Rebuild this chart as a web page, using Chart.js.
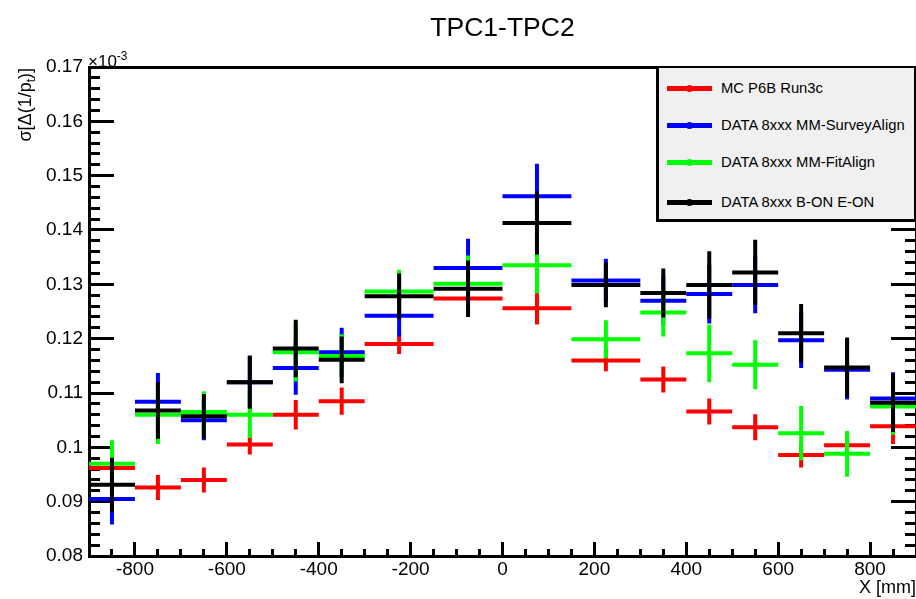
<!DOCTYPE html>
<html>
<head>
<meta charset="utf-8">
<title>TPC1-TPC2</title>
<script src="https://cdn.jsdelivr.net/npm/chart.js@4/dist/chart.umd.min.js"></script>
<style>
  html, body { margin: 0; padding: 0; background: #ffffff; }
  #wrap { position: relative; width: 916px; height: 599px; overflow: hidden;
          font-family: "Liberation Sans", Arial, Helvetica, sans-serif; color: #000; }
  #c { position: absolute; left: 0; top: 0; }
  .txt { position: absolute; white-space: nowrap; line-height: 1; }
  #title { left: 89px; width: 827px; top: 14px; text-align: center; font-size: 26.5px; }
  #ytitle { left: 0; top: 0; font-size: 18px;
            transform-origin: 0 0; transform: translate(16px, 68px) rotate(-90deg) translateX(-100%); }
  #ytitle sub { font-size: 12px; vertical-align: -4px; }
  #expo { left: 88px; top: 50px; font-size: 17px; }
  #expo sup { font-size: 12px; vertical-align: 7px; }
  #legend { position: absolute; left: 656px; top: 66px; width: 255px; height: 151px;
            background: #f0f0f0; border-style: solid; border-color: #000;
            border-width: 2px 2px 3px 3px; }
  .lg-line { position: absolute; left: 8px; width: 45px; height: 5px; }
  .lg-dot { position: absolute; left: 19px; top: -1px; width: 7px; height: 7px; border-radius: 50%; }
  .lg-text { position: absolute; left: 62px; font-size: 14.8px; line-height: 1; white-space: nowrap; }
</style>
</head>
<body>
<div id="wrap">
  <canvas id="c" width="916" height="599"></canvas>
  <div id="title" class="txt">TPC1-TPC2</div>
  <div id="ytitle" class="txt">σ[Δ(1/p<sub>t</sub>)]</div>
  <div id="expo" class="txt">×10<sup>-3</sup></div>
  <div id="legend"></div>
</div>
<script>
// Bins in X [mm]: centre and half width of each bin
const xCenters    = [-850, -750, -650, -550, -450, -350, -225, -75, 75, 225, 350, 450, 550, 650, 750, 850];
const xHalfWidths = [50, 50, 50, 50, 50, 50, 75, 75, 75, 75, 50, 50, 50, 50, 50, 50];

// sigma[Delta(1/pt)] in units of 1e-3, with its uncertainty
const mcValues = [0.0962, 0.0926, 0.0940, 0.1005, 0.1060, 0.1085, 0.1190, 0.1274, 0.1256, 0.1160, 0.1125, 0.1066, 0.1037, 0.0986, 0.1004, 0.1039];
const mcErrors = [0.0025, 0.0023, 0.0023, 0.0018, 0.0027, 0.0025, 0.0018, 0.0020, 0.0030, 0.0020, 0.0024, 0.0024, 0.0024, 0.0023, 0.0022, 0.0033];

const surveyValues = [0.0905, 0.1084, 0.1050, 0.1120, 0.1146, 0.1175, 0.1242, 0.1330, 0.1462, 0.1307, 0.1270, 0.1282, 0.1299, 0.1197, 0.1143, 0.1090];
const surveyErrors = [0.0047, 0.0053, 0.0037, 0.0048, 0.0049, 0.0045, 0.0038, 0.0054, 0.0060, 0.0040, 0.0045, 0.0054, 0.0052, 0.0051, 0.0055, 0.0048];

const fitValues = [0.0970, 0.1060, 0.1065, 0.1060, 0.1175, 0.1168, 0.1287, 0.1301, 0.1335, 0.1199, 0.1248, 0.1173, 0.1152, 0.1026, 0.0988, 0.1075];
const fitErrors = [0.0043, 0.0054, 0.0038, 0.0043, 0.0054, 0.0040, 0.0040, 0.0052, 0.0052, 0.0035, 0.0044, 0.0053, 0.0045, 0.0050, 0.0042, 0.0052];

const bonValues = [0.0931, 0.1068, 0.1057, 0.1120, 0.1182, 0.1161, 0.1278, 0.1292, 0.1413, 0.1299, 0.1284, 0.1299, 0.1322, 0.1210, 0.1147, 0.1082];
const bonErrors = [0.0050, 0.0052, 0.0041, 0.0049, 0.0053, 0.0043, 0.0042, 0.0052, 0.0058, 0.0041, 0.0045, 0.0062, 0.0060, 0.0054, 0.0055, 0.0054];

const seriesNames  = ['MC P6B Run3c', 'DATA 8xxx MM-SurveyAlign', 'DATA 8xxx MM-FitAlign', 'DATA 8xxx B-ON E-ON'];
const seriesColors = ['#ff0000', '#0000ff', '#00ff00', '#000000'];

// Axis ticks
const xMajorTicks = [-800, -600, -400, -200, 0, 200, 400, 600, 800];
const yMajorTicks = [0.08, 0.09, 0.10, 0.11, 0.12, 0.13, 0.14, 0.15, 0.16, 0.17];
const X_MIN = -900, X_MAX = 900, Y_MIN = 0.08, Y_MAX = 0.17;

const FONT = '"Liberation Sans", Arial, Helvetica, sans-serif';

// Each bin becomes a cross: a horizontal segment over the bin and a vertical error bar,
// separated by null points so the line breaks between them.
function crossPoints(values, errors) {
  const pts = [];
  xCenters.forEach((c, i) => {
    const v = values[i], e = errors[i], h = xHalfWidths[i];
    pts.push({ x: c - h, y: v }, { x: c + h, y: v }, { x: c, y: null });
    pts.push({ x: c, y: v - e }, { x: c, y: v + e }, { x: c, y: null });
  });
  return pts;
}

const seriesData = [
  [mcValues, mcErrors],
  [surveyValues, surveyErrors],
  [fitValues, fitErrors],
  [bonValues, bonErrors]
];

const datasets = seriesData.map(([v, e], i) => ({
  label: seriesNames[i],
  data: crossPoints(v, e),
  borderColor: seriesColors[i],
  backgroundColor: seriesColors[i],
  borderWidth: 4,
  pointRadius: 0,
  pointHoverRadius: 0,
  spanGaps: false,
  tension: 0,
  order: seriesData.length - i   // later series are drawn on top
}));

const tickFont = { family: FONT, size: 19 };

function noGridAxis(extra) {
  return Object.assign({
    type: 'linear',
    grid: { drawOnChartArea: false, drawTicks: true, tickWidth: 3, tickColor: '#000' },
    border: { display: false }
  }, extra);
}

new Chart(document.getElementById('c'), {
  type: 'line',
  data: { datasets },
  options: {
    responsive: false,
    animation: false,
    events: [],
    layout: { padding: { top: 67, left: 0, right: 0, bottom: 0 } },
    plugins: { legend: { display: false }, tooltip: { enabled: false }, title: { display: false } },
    scales: {
      x: noGridAxis({
        position: 'bottom', weight: 1, min: X_MIN, max: X_MAX,
        afterBuildTicks: s => { s.ticks = xMajorTicks.map(v => ({ value: v })); },
        afterFit: s => { s.height = 43; },
        grid: { drawOnChartArea: false, drawTicks: true, tickLength: -14, tickWidth: 3, tickColor: '#000' },
        border: { display: true, color: '#000', width: 3 },
        ticks: { padding: 16, color: '#000', font: tickFont, maxRotation: 0, autoSkip: false },
        title: { display: true, text: 'X [mm]', align: 'end', color: '#000',
                 font: { family: FONT, size: 18 }, padding: 0 }
      }),
      xMinor: noGridAxis({
        position: 'bottom', weight: 0, min: X_MIN, max: X_MAX,
        afterFit: s => { s.height = 0; },
        grid: { drawOnChartArea: false, drawTicks: true, tickLength: -7, tickWidth: 3, tickColor: '#000' },
        ticks: { display: false, stepSize: 50, autoSkip: false }
      }),
      xTop: noGridAxis({
        position: 'top', min: X_MIN, max: X_MAX,
        afterFit: s => { s.height = 0; },
        grid: { display: false },
        border: { display: true, color: '#000', width: 3 },
        ticks: { display: false }
      }),
      y: noGridAxis({
        position: 'left', weight: 1, min: Y_MIN, max: Y_MAX,
        afterBuildTicks: s => { s.ticks = yMajorTicks.map(v => ({ value: v })); },
        afterFit: s => { s.width = 89; },
        grid: { drawOnChartArea: false, drawTicks: true, tickLength: -25, tickWidth: 3, tickColor: '#000' },
        border: { display: true, color: '#000', width: 3 },
        ticks: { padding: 31, color: '#000', font: tickFont, autoSkip: false,
                 callback: v => String(+(+v).toFixed(2)) }
      }),
      yMinor: noGridAxis({
        position: 'left', weight: 0, min: Y_MIN, max: Y_MAX,
        afterFit: s => { s.width = 0; },
        grid: { drawOnChartArea: false, drawTicks: true, tickLength: -11, tickWidth: 3, tickColor: '#000' },
        ticks: { display: false, stepSize: 0.002, autoSkip: false }
      }),
      yRight: noGridAxis({
        position: 'right', weight: 1, min: Y_MIN, max: Y_MAX,
        afterBuildTicks: s => { s.ticks = yMajorTicks.map(v => ({ value: v })); },
        afterFit: s => { s.width = 0; },
        grid: { drawOnChartArea: false, drawTicks: true, tickLength: -25, tickWidth: 3, tickColor: '#000' },
        border: { display: true, color: '#000', width: 3 },
        ticks: { display: false }
      }),
      yRightMinor: noGridAxis({
        position: 'right', weight: 0, min: Y_MIN, max: Y_MAX,
        afterFit: s => { s.width = 0; },
        grid: { drawOnChartArea: false, drawTicks: true, tickLength: -11, tickWidth: 3, tickColor: '#000' },
        ticks: { display: false, stepSize: 0.002, autoSkip: false }
      })
    }
  }
});

// Legend box entries
const legendRowsY = [20.5, 57.3, 94.8, 134.8];
const legend = document.getElementById('legend');
seriesNames.forEach((name, i) => {
  const line = document.createElement('div');
  line.className = 'lg-line';
  line.style.top = (legendRowsY[i] - 2.5) + 'px';
  line.style.background = seriesColors[i];
  const dot = document.createElement('div');
  dot.className = 'lg-dot';
  dot.style.background = seriesColors[i];
  line.appendChild(dot);
  const text = document.createElement('div');
  text.className = 'lg-text';
  text.style.top = (legendRowsY[i] - 7.5) + 'px';
  text.textContent = name;
  legend.appendChild(line);
  legend.appendChild(text);
});
</script>
</body>
</html>
